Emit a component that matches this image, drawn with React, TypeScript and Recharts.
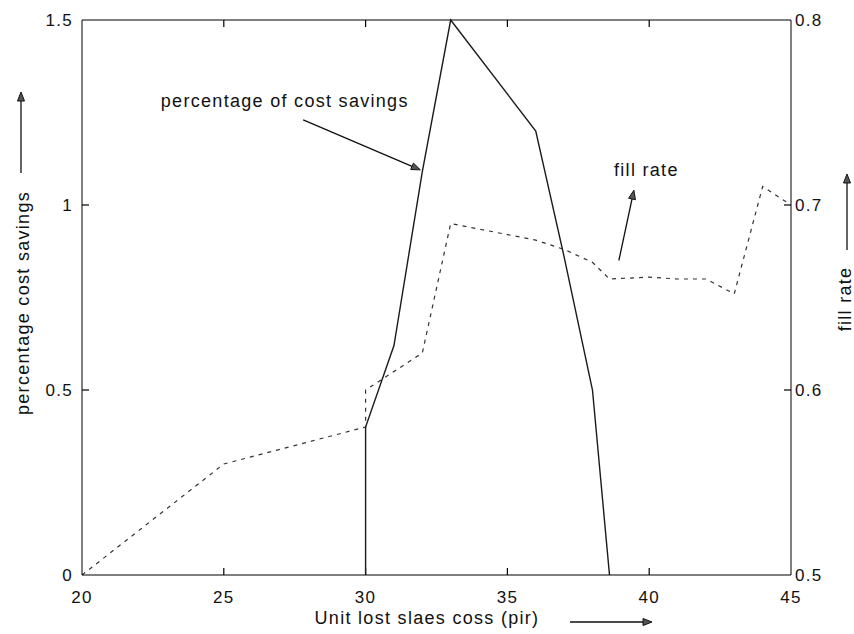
import { LineChart, Line, XAxis, YAxis, ReferenceLine, ReferenceDot, Label } from "recharts"

// unit lost sales cost (x) and the two series
const costX = [30, 30, 31, 32, 33, 36, 37, 38, 38.6]
const costSavings = [0, 0.4, 0.62, 1.09, 1.5, 1.2, 0.86, 0.5, 0]

const fillX = [20, 25, 30, 30, 31, 32, 33, 34, 35, 36, 37, 38, 38.6, 40, 41, 42, 43, 44, 45]
const fillRate = [0.5, 0.56, 0.58, 0.6, 0.61, 0.62, 0.69, 0.687, 0.684, 0.681, 0.676, 0.669, 0.66, 0.661, 0.66, 0.66, 0.652, 0.71, 0.7]

const xTicks = [20, 25, 30, 35, 40, 45]
const leftTicks = [0, 0.5, 1, 1.5]
const rightTicks = [0.5, 0.6, 0.7, 0.8]

// annotation anchors in data units
const costNote = { text: "percentage of cost savings", x: 27.15, y: 1.28, from: [27.8, 1.23], to: [31.93, 1.095] }
const fillNote = { text: "fill rate", x: 39.9, y: 0.719, from: [38.93, 0.67], to: [39.46, 0.708] }

const costData = costX.map((x, i) => ({ x, y: costSavings[i] }))
const fillData = fillX.map((x, i) => ({ x, y: fillRate[i] }))

const FONT = '"Liberation Sans", Arial, sans-serif'
const INK = "#111"
const TICK = 7

const inner = (list: number[]) => list.slice(1, -1)

function Arrow({ x1, y1, x2, y2, head = 9, half = 3.5 }: any) {
    const dx = x2 - x1
    const dy = y2 - y1
    const len = Math.sqrt(dx * dx + dy * dy) || 1
    const ux = dx / len
    const uy = dy / len
    const bx = x2 - ux * head
    const by = y2 - uy * head
    const pts = `${x2},${y2} ${bx - uy * half},${by + ux * half} ${bx + uy * half},${by - ux * half}`
    return (
        <g>
            <line x1={x1} y1={y1} x2={bx} y2={by} stroke={INK} strokeWidth={1.3} />
            <polygon points={pts} fill="#555" stroke={INK} strokeWidth={1} />
        </g>
    )
}

// inward tick marks (MATLAB style) drawn from a reference line's ends
const xTickShape = (p: any) => {
    const top = Math.min(p.y1, p.y2)
    const bot = Math.max(p.y1, p.y2)
    return (
        <g>
            <line x1={p.x1} y1={top} x2={p.x1} y2={top + TICK} stroke="#000" strokeWidth={1.2} />
            <line x1={p.x1} y1={bot} x2={p.x1} y2={bot - TICK} stroke="#000" strokeWidth={1.2} />
        </g>
    )
}
const leftTickShape = (p: any) => {
    const l = Math.min(p.x1, p.x2)
    return <line x1={l} y1={p.y1} x2={l + TICK} y2={p.y1} stroke="#000" strokeWidth={1.2} />
}
const rightTickShape = (p: any) => {
    const r = Math.max(p.x1, p.x2)
    return <line x1={r} y1={p.y1} x2={r - TICK} y2={p.y1} stroke="#000" strokeWidth={1.2} />
}

const noteText = (text: string) => (p: any) => (
    <text x={p.cx} y={p.cy} textAnchor="middle" dominantBaseline="central" fontSize={18} fill={INK}>
        {text}
    </text>
)

const arrowShape = (p: any) => <Arrow x1={p.x1} y1={p.y1} x2={p.x2} y2={p.y2} />

const tickStyle = { fontSize: 17, fill: INK }

export default function App() {
    return (
        <div
            style={{
                position: "absolute",
                left: 0,
                top: 0,
                background: "#fff",
                fontFamily: FONT,
                letterSpacing: "1.3px",
            }}
        >
            <LineChart width={854} height={634} margin={{ top: 20, right: 0, bottom: 0, left: 0 }}>
                <XAxis
                    xAxisId="bottom"
                    type="number"
                    dataKey="x"
                    domain={[20, 45]}
                    ticks={xTicks}
                    height={59}
                    stroke="#000"
                    tickLine={false}
                    tickSize={0}
                    tickMargin={16}
                    tick={tickStyle}
                    allowDataOverflow
                >
                    <Label
                        content={(p: any) => {
                            const vb = p.viewBox
                            return (
                                <g>
                                    <text x={vb.x + 345} y={vb.y + 43} textAnchor="middle" dominantBaseline="central" fontSize={18} fill={INK}>
                                        Unit lost slaes coss (pir)
                                    </text>
                                    <Arrow x1={vb.x + 488} y1={vb.y + 47} x2={vb.x + 570} y2={vb.y + 47} />
                                </g>
                            )
                        }}
                    />
                </XAxis>
                <YAxis
                    yAxisId="left"
                    domain={[0, 1.5]}
                    ticks={leftTicks}
                    width={82}
                    stroke="#000"
                    tickLine={false}
                    tickSize={0}
                    tickMargin={9}
                    tick={tickStyle}
                >
                    <Label
                        content={(p: any) => {
                            const vb = p.viewBox
                            return (
                                <g>
                                    <text
                                        x={vb.x + 23}
                                        y={vb.y + 283}
                                        transform={`rotate(-90 ${vb.x + 23} ${vb.y + 283})`}
                                        textAnchor="middle"
                                        dominantBaseline="central"
                                        fontSize={18}
                                        fill={INK}
                                    >
                                        percentage cost savings
                                    </text>
                                    <Arrow x1={vb.x + 21} y1={vb.y + 153} x2={vb.x + 21} y2={vb.y + 72} />
                                </g>
                            )
                        }}
                    />
                </YAxis>
                <YAxis
                    yAxisId="right"
                    orientation="right"
                    domain={[0.5, 0.8]}
                    ticks={rightTicks}
                    width={63}
                    stroke="#000"
                    tickLine={false}
                    tickSize={0}
                    tickMargin={4}
                    tick={tickStyle}
                >
                    <Label
                        content={(p: any) => {
                            const vb = p.viewBox
                            return (
                                <g>
                                    <text
                                        x={vb.x + 54}
                                        y={vb.y + 279}
                                        transform={`rotate(-90 ${vb.x + 54} ${vb.y + 279})`}
                                        textAnchor="middle"
                                        dominantBaseline="central"
                                        fontSize={18}
                                        fill={INK}
                                    >
                                        fill rate
                                    </text>
                                    <Arrow x1={vb.x + 56} y1={vb.y + 230} x2={vb.x + 56} y2={vb.y + 154} />
                                </g>
                            )
                        }}
                    />
                </YAxis>

                {/* top border of the box */}
                <ReferenceLine xAxisId="bottom" yAxisId="left" y={1.5} stroke="#000" strokeWidth={1} ifOverflow="visible" />
                {inner(xTicks).map((v) => (
                    <ReferenceLine key={`x${v}`} xAxisId="bottom" yAxisId="left" x={v} shape={xTickShape} />
                ))}
                {inner(leftTicks).map((v) => (
                    <ReferenceLine key={`l${v}`} xAxisId="bottom" yAxisId="left" y={v} shape={leftTickShape} />
                ))}
                {inner(rightTicks).map((v) => (
                    <ReferenceLine key={`r${v}`} xAxisId="bottom" yAxisId="right" y={v} shape={rightTickShape} />
                ))}

                <Line
                    data={fillData}
                    xAxisId="bottom"
                    yAxisId="right"
                    dataKey="y"
                    type="linear"
                    stroke="#333"
                    strokeWidth={1.2}
                    strokeDasharray="4 5"
                    dot={false}
                    activeDot={false}
                    isAnimationActive={false}
                />
                <Line
                    data={costData}
                    xAxisId="bottom"
                    yAxisId="left"
                    dataKey="y"
                    type="linear"
                    stroke="#1a1a1a"
                    strokeWidth={1.4}
                    dot={false}
                    activeDot={false}
                    isAnimationActive={false}
                />

                <ReferenceLine
                    xAxisId="bottom"
                    yAxisId="left"
                    segment={[
                        { x: costNote.from[0], y: costNote.from[1] },
                        { x: costNote.to[0], y: costNote.to[1] },
                    ]}
                    shape={arrowShape}
                />
                <ReferenceDot xAxisId="bottom" yAxisId="left" x={costNote.x} y={costNote.y} shape={noteText(costNote.text)} />
                <ReferenceLine
                    xAxisId="bottom"
                    yAxisId="right"
                    segment={[
                        { x: fillNote.from[0], y: fillNote.from[1] },
                        { x: fillNote.to[0], y: fillNote.to[1] },
                    ]}
                    shape={arrowShape}
                />
                <ReferenceDot xAxisId="bottom" yAxisId="right" x={fillNote.x} y={fillNote.y} shape={noteText(fillNote.text)} />
            </LineChart>
        </div>
    )
}
